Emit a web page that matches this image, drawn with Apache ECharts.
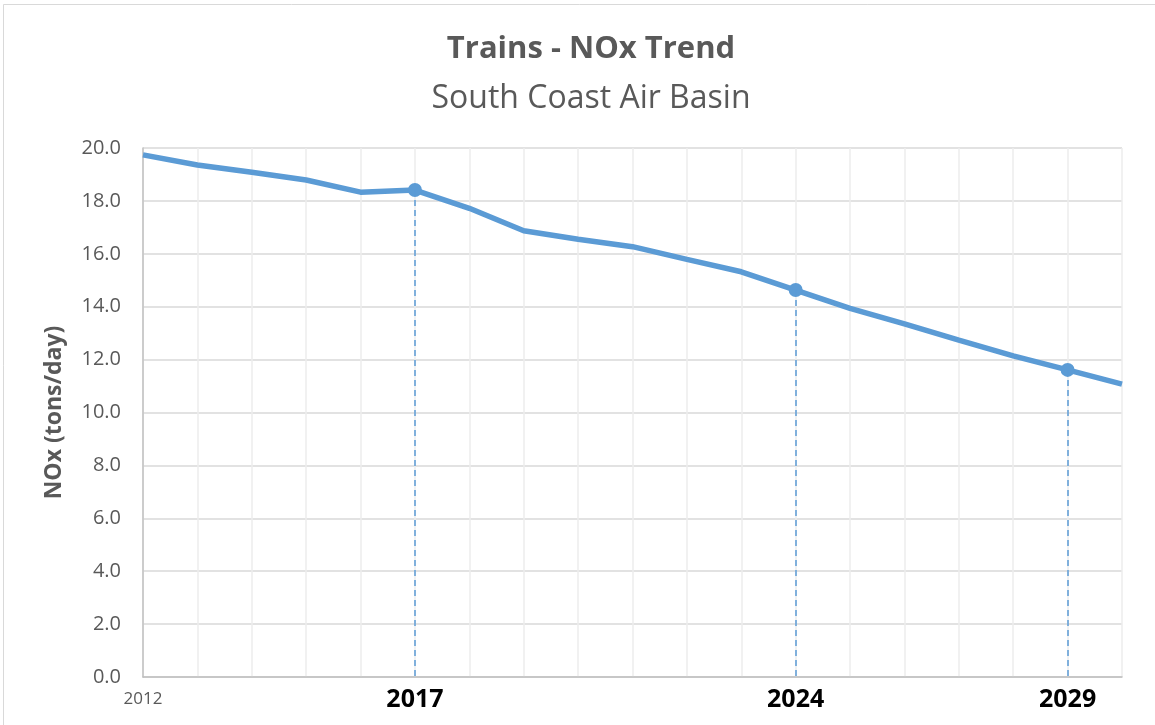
<!DOCTYPE html>
<html>
<head>
<meta charset="utf-8">
<script src="https://cdn.jsdelivr.net/npm/echarts@6/dist/echarts.min.js"></script>
<style>
  html, body { margin: 0; padding: 0; background: #fff; }
  #chart { width: 1155px; height: 725px; }
</style>
</head>
<body>
<div id="chart"></div>
<script>
// years on the x axis, 2012 - 2030
const years = ['2012', '2013', '2014', '2015', '2016', '2017', '2018', '2019', '2020', '2021',
	'2022', '2023', '2024', '2025', '2026', '2027', '2028', '2029', '2030']
// NOx, tons/day
const nox = [19.74, 19.36, 19.08, 18.79, 18.33, 18.41, 17.72, 16.87, 16.55, 16.27,
	15.79, 15.32, 14.63, 13.94, 13.35, 12.74, 12.14, 11.61, 11.07]
// years with a marker and a drop line
const markedYears = ['2017', '2024', '2029']
const smallLabelYears = ['2012']

const FONT = 'Open Sans'

let chart = echarts.init(document.getElementById('chart'))

let seriesData = years.map((y, i) => {
	if (markedYears.indexOf(y) >= 0) {
		return { value: nox[i], symbol: 'circle', symbolSize: 14 }
	}
	return { value: nox[i], symbol: 'none' }
})

let dropLines = markedYears.map(y => {
	let v = nox[years.indexOf(y)]
	return [{ coord: [y, v] }, { coord: [y, 0] }]
})

let option = {
	backgroundColor: '#fff',
	textStyle: { fontFamily: FONT },
	title: {
		text: 'Trains - NOx Trend',
		subtext: 'South Coast Air Basin',
		left: 586,
		textAlign: 'center',
		top: 29,
		itemGap: 18,
		textStyle: { fontSize: 31, fontWeight: 'bold', color: '#595959', fontFamily: FONT },
		subtextStyle: { fontSize: 32, color: '#595959', fontFamily: FONT }
	},
	graphic: [{
		type: 'rect',
		shape: { x: 3.5, y: 4.5, width: 1160, height: 730 },
		style: { fill: 'none', stroke: '#d9d9d9', lineWidth: 1 },
		silent: true
	}],
	grid: { left: 143, right: 33, top: 148, bottom: 48 },
	xAxis: {
		type: 'category',
		data: years,
		boundaryGap: false,
		axisLine: { lineStyle: { color: '#bfbfbf', width: 1.5 } },
		axisTick: { show: false },
		splitLine: { show: true, lineStyle: { color: '#ececec', width: 1.5 } },
		axisLabel: {
			interval: 0,
			margin: 10,
			formatter: v => {
				if (smallLabelYears.indexOf(v) >= 0) return '{a|' + v + '}'
				if (markedYears.indexOf(v) >= 0) return '{b|' + v + '}'
				return ''
			},
			rich: {
				a: { fontSize: 17, color: '#595959', fontFamily: FONT, padding: [4, 0, 0, 0] },
				b: { fontSize: 25, fontWeight: 'bold', color: '#000', fontFamily: FONT }
			}
		}
	},
	yAxis: {
		type: 'value',
		min: 0,
		max: 20,
		interval: 2,
		name: 'NOx (tons/day)',
		nameLocation: 'middle',
		nameGap: 77,
		nameTextStyle: { fontSize: 23, fontWeight: 'bold', color: '#595959', fontFamily: FONT },
		axisLine: { show: true, lineStyle: { color: '#bfbfbf', width: 1.5 } },
		axisTick: { show: false },
		splitLine: { lineStyle: { color: '#d9d9d9', width: 1.5 } },
		axisLabel: {
			margin: 22,
			fontSize: 20,
			color: '#595959',
			fontFamily: FONT,
			formatter: v => v.toFixed(1)
		}
	},
	series: [{
		type: 'line',
		data: seriesData,
		symbol: 'none',
		lineStyle: { color: '#5b9bd5', width: 5.5 },
		itemStyle: { color: '#5b9bd5' },
		z: 3,
		markLine: {
			silent: true,
			symbol: ['none', 'none'],
			label: { show: false },
			lineStyle: { color: '#5b9bd5', type: [6, 4], width: 1.5 },
			data: dropLines
		}
	}]
}

chart.setOption(option)
</script>
</body>
</html>
